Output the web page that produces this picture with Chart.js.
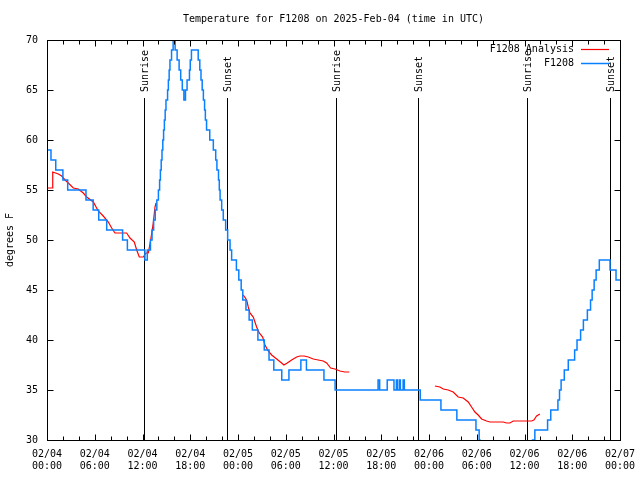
<!DOCTYPE html>
<html lang="en">
<head>
<meta charset="UTF-8">
<title>Temperature for F1208</title>
<script src="https://cdn.jsdelivr.net/npm/chart.js"></script>
<style>
    body { margin: 0; background: #fff; }
    canvas { display: block; }
</style>
</head>
<body>
<canvas id="tempChart" width="640" height="480"></canvas>
<script>
// hours since 02/04 00:00 UTC
const blueHours = [0, 0.5, 1.1, 2.0, 2.6, 4.9, 5.8, 6.5, 7.5, 9.5, 10.1, 12.3, 12.6, 13.0, 13.2, 13.4, 13.6, 13.8, 14.0, 14.15,
    14.25, 14.35, 14.45, 14.55, 14.65, 14.75, 14.85, 14.95, 15.15, 15.25, 15.35, 15.45, 15.65, 15.85, 16.1, 16.35, 16.6, 16.8, 17.0, 17.2,
    17.4, 17.6, 17.9, 18.0, 18.15, 19.0, 19.2, 19.35, 19.5, 19.65, 19.8, 19.9, 20.05, 20.45, 20.9, 21.2, 21.35, 21.55, 21.65, 21.75,
    21.95, 22.15, 22.45, 22.7, 23.0, 23.2, 23.8, 24.1, 24.4, 24.6, 25.0, 25.4, 25.8, 26.5, 27.3, 27.9, 28.5, 29.5, 30.4, 31.9,
    32.6, 34.8, 36.2, 41.6, 41.8, 42.75, 43.6, 43.9, 44.05, 44.3, 44.4, 44.75, 44.9, 46.9, 49.5, 51.5, 53.9, 54.3, 54.4, 61.0,
    61.3, 62.9, 63.3, 64.2, 64.4, 64.6, 65.0, 65.5, 66.3, 66.6, 67.05, 67.4, 67.9, 68.3, 68.5, 68.75, 69.0, 69.4, 70.75, 71.5, 72];
const blueTemps = [59, 58, 57, 56, 55, 54, 53, 52, 51, 50, 49, 48, 49, 50, 51, 52, 53, 54, 55, 56,
    57, 58, 59, 60, 61, 62, 63, 64, 65, 66, 67, 68, 69, 70, 69, 68, 67, 66, 65, 64,
    65, 66, 67, 68, 69, 68, 67, 66, 65, 64, 63, 62, 61, 60, 59, 58, 57, 56, 55, 54,
    53, 52, 51, 50, 49, 48, 47, 46, 45, 44, 43, 42, 41, 40, 39, 38, 37, 36, 37, 38,
    37, 36, 35, 36, 35, 36, 35, 36, 35, 36, 35, 36, 35, 34, 33, 32, 31, 30, 28, 30,
    31, 32, 33, 34, 35, 36, 37, 38, 39, 40, 41, 42, 43, 44, 45, 46, 47, 48, 47, 46, 46];

const redHours = [0, 0.7, 0.72, 1.42, 1.85, 2.26, 2.68, 3.3, 3.93, 4.56, 4.99, 5.82, 6.44, 7.07, 7.7, 8.13, 8.54, 9.38, 10.01, 10.43,
    10.97, 11.27, 11.6, 12.1, 12.44, 12.73, 13.03, 13.35, 13.57, 13.7, 14,
    24.66, 25.09, 25.29, 25.5, 25.92, 26.34, 26.67, 27.1, 27.39, 27.8, 28.23, 28.86, 29.48, 29.77, 30.19, 30.74, 31.37, 31.78, 32.29,
    32.83, 33.46, 34.08, 34.71, 35.14, 35.64, 36.18, 36.81, 37.44, 37.98, 40,
    48.74, 49.37, 49.79, 50.41, 51.04, 51.67, 52.3, 52.93, 53.35, 53.77, 54.18, 54.61, 55.24, 55.65, 57.32, 57.75, 58.17, 58.58, 60.89, 61.18,
    61.52, 61.93];
const redTemps = [55.2, 55.2, 56.8, 56.6, 56.4, 56.0, 55.7, 55.2, 55.1, 54.7, 54.3, 53.8, 52.9, 52.4, 51.8, 51.2, 50.7, 50.7, 50.7, 50.2,
    49.8, 49.0, 48.3, 48.3, 48.7, 48.7, 50.0, 51.7, 53.3, 53.7, null,
    44.5, 44.0, 43.3, 42.7, 42.3, 41.3, 40.7, 40.3, 39.5, 38.9, 38.5, 38.1, 37.7, 37.5, 37.7, 38.0, 38.3, 38.4, 38.4,
    38.3, 38.1, 38.0, 37.9, 37.7, 37.2, 37.1, 36.9, 36.8, 36.8, null,
    35.4, 35.3, 35.1, 35.0, 34.8, 34.3, 34.2, 33.8, 33.3, 32.8, 32.5, 32.1, 31.9, 31.8, 31.8, 31.7, 31.7, 31.9, 31.9, 32.0,
    32.4, 32.6];

const sunHours = [12.23, 22.58, 36.32, 46.66, 60.36, 70.73];
const sunNames = ["Sunrise", "Sunset", "Sunrise", "Sunset", "Sunrise", "Sunset"];

const xTickDates = ["02/04", "02/04", "02/04", "02/04", "02/05", "02/05", "02/05", "02/05", "02/06", "02/06", "02/06", "02/06", "02/07"];
const xTickTimes = ["00:00", "06:00", "12:00", "18:00", "00:00", "06:00", "12:00", "18:00", "00:00", "06:00", "12:00", "18:00", "00:00"];

const FONT = "'DejaVu Sans Mono', 'Liberation Mono', monospace";

// sunrise / sunset markers
const sunPlugin = {
    id: 'sunLines',
    beforeDatasetsDraw(chart) {
        const ctx = chart.ctx, x = chart.scales.x, area = chart.chartArea;
        ctx.save();
        ctx.strokeStyle = '#000';
        ctx.lineWidth = 1;
        ctx.fillStyle = '#000';
        ctx.font = '10px ' + FONT;
        sunHours.forEach((h, i) => {
            const px = Math.round(x.getPixelForValue(h)) + 0.5;
            ctx.beginPath();
            ctx.moveTo(px, 98);
            ctx.lineTo(px, area.bottom);
            ctx.stroke();
            ctx.save();
            ctx.translate(px + 1, 92);
            ctx.rotate(-Math.PI / 2);
            ctx.textAlign = 'left';
            ctx.textBaseline = 'middle';
            ctx.fillText(sunNames[i], 0, 0);
            ctx.restore();
        });
        ctx.restore();
    }
};

// gnuplot style frame, inward ticks and legend
const framePlugin = {
    id: 'frame',
    afterDatasetsDraw(chart) {
        const ctx = chart.ctx, a = chart.chartArea;
        const xs = chart.scales.x, ys = chart.scales.y;
        ctx.save();
        ctx.strokeStyle = '#000';
        ctx.lineWidth = 1;
        const L = Math.round(a.left) + 0.5, R = Math.round(a.right) + 0.5;
        const T = Math.round(a.top) + 0.5, B = Math.round(a.bottom) + 0.5;
        ctx.strokeRect(L, T, R - L, B - T);
        ctx.beginPath();
        for (let h = 0; h <= 72; h += 2) {
            const px = Math.round(xs.getPixelForValue(h)) + 0.5;
            const len = h % 6 === 0 ? 6 : 4;
            ctx.moveTo(px, B); ctx.lineTo(px, B - len);
            ctx.moveTo(px, T); ctx.lineTo(px, T + len);
        }
        for (let t = 30; t <= 70; t += 5) {
            const py = Math.round(ys.getPixelForValue(t)) + 0.5;
            ctx.moveTo(L, py); ctx.lineTo(L + 6, py);
            ctx.moveTo(R, py); ctx.lineTo(R - 6, py);
        }
        ctx.stroke();

        // legend
        ctx.font = '10px ' + FONT;
        ctx.textAlign = 'right';
        ctx.textBaseline = 'middle';
        ctx.fillStyle = '#000';
        chart.data.datasets.forEach((ds, i) => {
            const y = 49 + i * 14;
            ctx.fillText(ds.label, 574, y);
            ctx.strokeStyle = ds.borderColor;
            ctx.lineWidth = ds.borderWidth;
            ctx.beginPath();
            ctx.moveTo(581, y + 0.5);
            ctx.lineTo(609, y + 0.5);
            ctx.stroke();
        });
        ctx.restore();
    }
};

new Chart(document.getElementById('tempChart'), {
    type: 'line',
    data: {
        datasets: [{
            label: 'F1208 Analysis',
            data: redHours.map((h, i) => ({ x: h, y: redTemps[i] })),
            borderColor: '#ff0000',
            borderWidth: 1.2,
            pointRadius: 0,
            spanGaps: false,
            order: 1
        }, {
            label: 'F1208',
            data: blueHours.map((h, i) => ({ x: h, y: blueTemps[i] })),
            borderColor: '#0a80ff',
            borderWidth: 1.5,
            pointRadius: 0,
            stepped: 'before',
            order: 0
        }]
    },
    options: {
        responsive: false,
        animation: false,
        layout: { padding: { left: 0, right: 20, top: 0, bottom: 0 } },
        plugins: {
            legend: { display: false },
            tooltip: { enabled: false },
            title: {
                display: true,
                fullSize: false,
                text: 'Temperature for F1208 on 2025-Feb-04 (time in UTC)',
                color: '#000',
                font: { family: FONT, size: 10, weight: 'normal', lineHeight: 1.2 },
                padding: { top: 13, bottom: 15 }
            }
        },
        scales: {
            x: {
                type: 'linear',
                min: 0,
                max: 72,
                grid: { display: false, drawTicks: false },
                border: { display: false },
                afterFit: s => { s.height = 40; s.paddingLeft = 0; s.paddingRight = 0; },
                ticks: {
                    stepSize: 6,
                    autoSkip: false,
                    maxRotation: 0,
                    padding: 8,
                    color: '#000',
                    font: { family: FONT, size: 10, lineHeight: 1.25 },
                    callback: v => [xTickDates[v / 6], xTickTimes[v / 6]]
                }
            },
            y: {
                min: 30,
                max: 70,
                grid: { display: false, drawTicks: false },
                border: { display: false },
                afterFit: s => { s.width = 47; s.paddingTop = 0; s.paddingBottom = 0; },
                ticks: {
                    stepSize: 5,
                    padding: 9,
                    color: '#000',
                    font: { family: FONT, size: 10 }
                },
                title: {
                    display: true,
                    text: 'degrees F',
                    color: '#000',
                    font: { family: FONT, size: 10 },
                    padding: { top: 4, bottom: 0 }
                }
            }
        }
    },
    plugins: [sunPlugin, framePlugin]
});
</script>
</body>
</html>
